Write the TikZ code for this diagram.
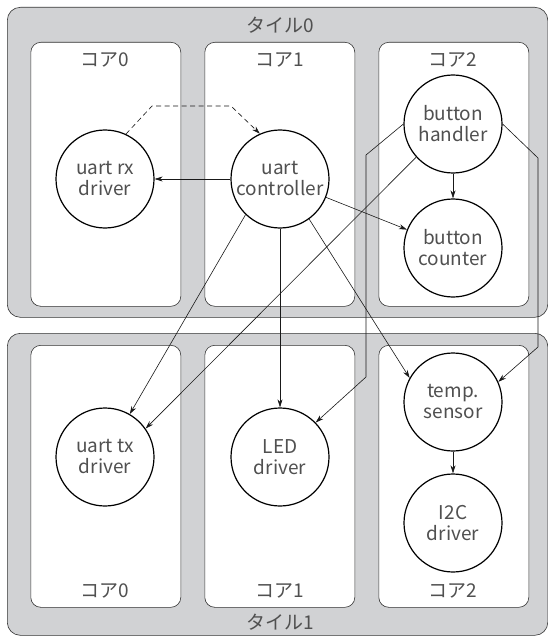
\documentclass[tikz,border=0pt]{standalone}
\usepackage{fontspec}
\setmainfont{Noto Sans CJK JP}
\usetikzlibrary{arrows.meta}
\definecolor{tilegray}{HTML}{D1D2D4}
\definecolor{txt}{HTML}{505050}
\begin{document}
\begin{tikzpicture}[x=1bp,y=-1bp,
  tilebox/.style={draw=black!80, line width=0.6bp, fill=tilegray, rounded corners=13bp, inner sep=0pt, anchor=north west},
  corebox/.style={draw=black!80, line width=0.6bp, fill=white, rounded corners=10bp, inner sep=0pt, anchor=north west, minimum width=150bp},
  proc/.style={circle, draw=black, line width=1.2bp, fill=white, minimum size=98bp, inner sep=0pt, align=center, font=\fontsize{19bp}{21bp}\selectfont, text=txt},
  lbl/.style={font=\fontsize{19bp}{21bp}\selectfont, text=txt, inner sep=0pt},
  conn/.style={draw=black!90, line width=0.6bp, -{Stealth[length=8bp,width=5bp]}},
  dashconn/.style={conn, dash pattern=on 5bp off 3.5bp},
]
\useasboundingbox (0,0) rectangle (548,638);
% tiles
\node[tilebox, minimum width=540.5bp, minimum height=310bp] (tile0) at (7,7) {};
\node[tilebox, minimum width=540.5bp, minimum height=302bp] (tile1) at (7,333) {};
% cores tile0
\node[corebox, minimum height=264bp] (c00) at (30.5,42) {};
\node[corebox, minimum height=264bp] (c01) at (204.5,42) {};
\node[corebox, minimum height=264bp] (c02) at (378.5,42) {};
% cores tile1
\node[corebox, minimum height=262bp] (c10) at (30.5,345) {};
\node[corebox, minimum height=262bp] (c11) at (204.5,345) {};
\node[corebox, minimum height=262bp] (c12) at (378.5,345) {};
% labels
\node[lbl] (t0lbl) at (280,25) {タイル0};
\node[lbl] (t1lbl) at (280,622) {タイル1};
\node[lbl] (l00) at (105,60) {コア0};
\node[lbl] (l01) at (280,60) {コア1};
\node[lbl] (l02) at (453,60) {コア2};
\node[lbl] (l10) at (105,591) {コア0};
\node[lbl] (l11) at (280,591) {コア1};
\node[lbl] (l12) at (453,591) {コア2};
% processes
\node[proc] (rx) at (105,179) {uart rx\\driver};
\node[proc] (ctrl) at (280,179) {uart\\controller};
\node[proc] (bh) at (453,124) {button\\handler};
\node[proc] (bc) at (453,248) {button\\counter};
\node[proc] (tx) at (105,457) {uart tx\\driver};
\node[proc] (led) at (280,457) {LED\\driver};
\node[proc] (temp) at (453,402) {temp.\\sensor};
\node[proc] (i2c) at (453,523) {I2C\\driver};
% bend points
\coordinate (d1) at (152,106);
\coordinate (d2) at (231,106);
\coordinate (b1) at (366,155);
\coordinate (b2) at (366,377);
\coordinate (b3) at (538,158);
\coordinate (b4) at (538,347);
% connectors
\draw[dashconn] (rx.65) -- (d1) -- (d2) -- (ctrl.114);
\draw[conn] (ctrl) -- (rx);
\draw[conn] (ctrl) -- (bc);
\draw[conn] (ctrl.226) -- (tx.60);
\draw[conn] (ctrl) -- (led);
\draw[conn] (ctrl.-54) -- (temp.151);
\draw[conn] (bh.222) -- (tx.35);
\draw[conn] (bh.180) -- (b1) -- (b2) -- (led.44);
\draw[conn] (bh.0) -- (b3) -- (b4) -- (temp.24);
\draw[conn] (bh) -- (bc);
\draw[conn] (temp) -- (i2c);
\end{tikzpicture}
\end{document}
